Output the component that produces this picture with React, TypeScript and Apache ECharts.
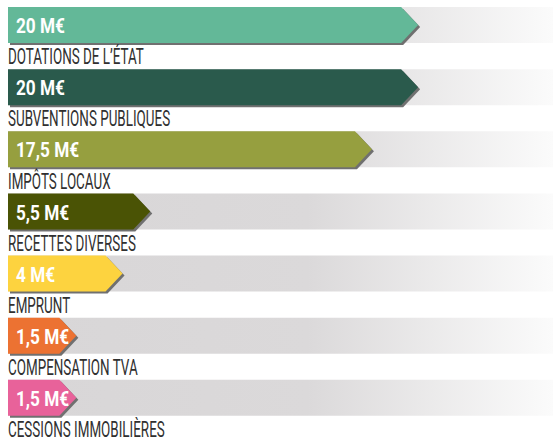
import React, { useEffect, useRef } from "react";
import * as echarts from "echarts";

const categories = [
  "DOTATIONS DE L’ÉTAT",
  "SUBVENTIONS PUBLIQUES",
  "IMPÔTS LOCAUX",
  "RECETTES DIVERSES",
  "EMPRUNT",
  "COMPENSATION TVA",
  "CESSIONS IMMOBILIÈRES",
];
const values = [20, 20, 17.5, 5.5, 4, 1.5, 1.5];
const unit = "M€";
const colors = ["#63b898", "#2a5a4c", "#969f3f", "#4a5305", "#fdd33f", "#ec7232", "#e8629a"];

const BAR_H = 36;
const ARROW = 17;

function fmt(v: number) {
  return String(v).replace(".", ",") + " " + unit;
}

export default function App() {
  const ref = useRef<HTMLDivElement>(null);
  useEffect(() => {
    document.body.style.margin = "0";
    const chart = echarts.init(ref.current!, null, { renderer: "svg" });
    const track = new echarts.graphic.LinearGradient(0, 0, 1, 0, [
      { offset: 0, color: "#d8d6d7" },
      { offset: 0.55, color: "#dbd9da" },
      { offset: 1, color: "#fbfbfb" },
    ]);
    chart.setOption({
      animation: false,
      grid: { left: 8, right: 0, top: 7, height: 437.5 },
      xAxis: { type: "value", min: -2.2, max: 27.3, show: false },
      yAxis: { type: "category", data: categories, inverse: true, show: false },
      series: [
        {
          type: "custom",
          clip: false,
          data: values.map((v, i) => [v, i]),
          encode: { x: 0, y: 1 },
          renderItem: (params: any, api: any) => {
            const val = api.value(0);
            const cat = api.value(1);
            const c = api.coord([val, cat]);
            const band = api.size([0, 1])[1];
            const cs = params.coordSys;
            const left = cs.x;
            const top = c[1] - band / 2;
            const tip = c[0];
            const pts = [
              [left, top],
              [tip - ARROW, top],
              [tip, top + BAR_H / 2],
              [tip - ARROW, top + BAR_H],
              [left, top + BAR_H],
            ];
            const shadowPts = pts.map((p) => [p[0] + 2, p[1] + 2]);
            return {
              type: "group",
              children: [
                {
                  type: "rect",
                  shape: { x: left, y: top, width: cs.width, height: BAR_H },
                  style: { fill: track },
                },
                {
                  type: "polygon",
                  shape: { points: shadowPts },
                  style: { fill: "#707070" },
                },
                {
                  type: "polygon",
                  shape: { points: pts },
                  style: { fill: colors[params.dataIndex] },
                },
                {
                  type: "text",
                  x: left + 8,
                  y: top + BAR_H / 2 + 1,
                  scaleX: 0.82,
                  style: {
                    text: fmt(val),
                    fill: "#ffffff",
                    fontSize: 21,
                    fontWeight: "bold",
                    fontFamily: "Roboto",
                    verticalAlign: "middle",
                    align: "left",
                  },
                },
                {
                  type: "text",
                  x: left,
                  y: top + 49.5,
                  scaleX: 0.61,
                  style: {
                    text: categories[params.dataIndex],
                    fill: "#303030",
                    fontSize: 22,
                    fontFamily: "Roboto",
                    verticalAlign: "middle",
                    align: "left",
                  },
                },
              ],
            };
          },
        },
      ],
    });
    return () => chart.dispose();
  }, []);
  return <div ref={ref} style={{ width: 553, height: 442 }} />;
}
